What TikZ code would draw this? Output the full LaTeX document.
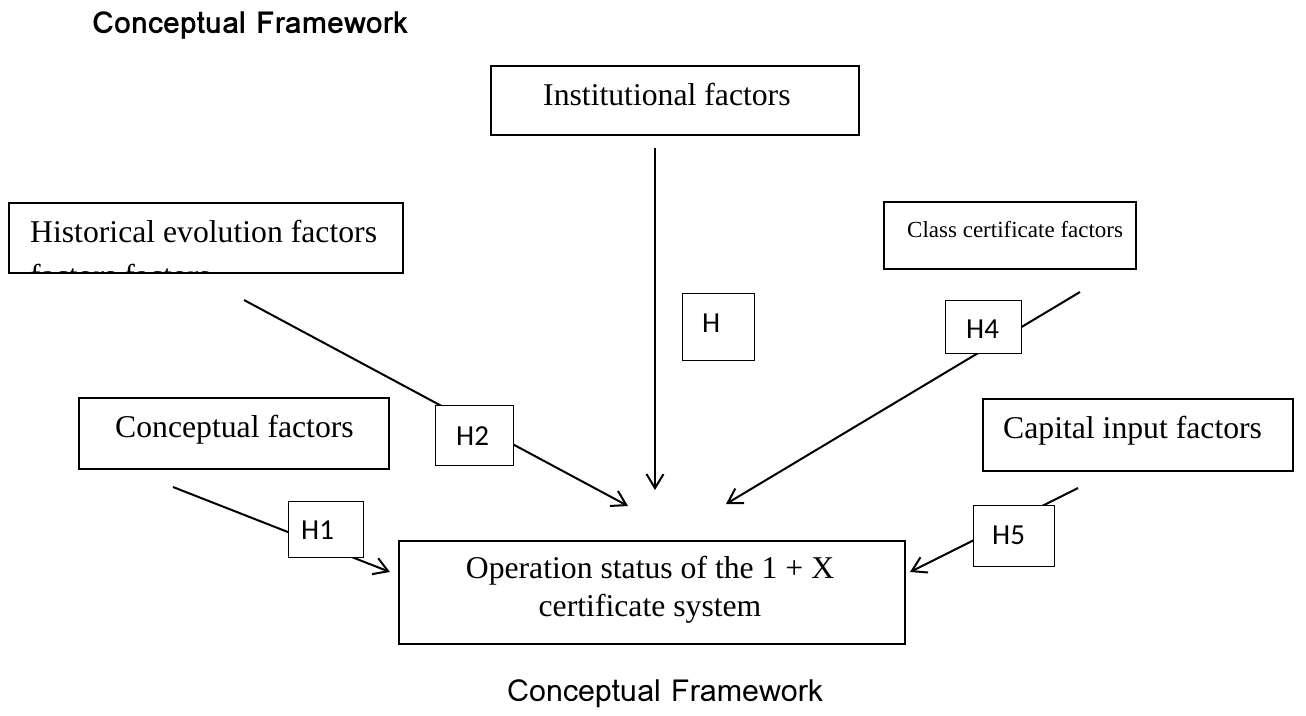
\documentclass[tikz,border=0pt]{standalone}
\usepackage{fontspec}
\setmainfont{Liberation Serif}
\newfontfamily\hfont{Carlito}
\newfontfamily\lomafont{Loma}
\usetikzlibrary{arrows.meta}
\begin{document}
\begin{tikzpicture}[x=1pt,y=-1pt,
  factorbox/.style={draw, line width=1.8pt, inner sep=0pt, anchor=north west},
  factortext/.style={inner sep=0pt, anchor=base west, font=\fontsize{31.7}{38}\selectfont},
  hbox/.style={draw, line width=1pt, fill=white, inner sep=0pt, anchor=north west},
  htext/.style={inner sep=0pt, anchor=base west, font=\hfont\fontsize{29}{32}\selectfont},
  link/.style={line width=2pt, -{Straight Barb[length=14pt,width=17pt,line width=2pt]}},
  titletext/.style={inner sep=0pt, anchor=base west, font=\lomafont\fontsize{30.4}{34}\selectfont}
]
\useasboundingbox (0,0) rectangle (1306,715);

% titles
\node[titletext, font=\lomafont\bfseries\fontsize{30.4}{34}\selectfont] (title) at (92,33) {Conceptual Framework};
\node[titletext] (caption) at (507,701) {Conceptual Framework};

% factor boxes
\node[factorbox, minimum width=368, minimum height=69] (inst) at (490,65) {};
\node[factortext] (instT) at (543,105) {Institutional factors};

\node[factorbox, minimum width=394, minimum height=70] (hist) at (8,202) {};
\node[factortext] (histT) at (30,242) {Historical evolution factors};
\begin{scope}
  \clip (8,203) rectangle (402,271);
  \node[factortext] (histT2) at (30,286) {factors factors};
\end{scope}

\node[factorbox, minimum width=252, minimum height=67] (class) at (883,201) {};
\node[factortext, font=\fontsize{23}{27}\selectfont] (classT) at (907,237) {Class certificate factors};

\node[factorbox, minimum width=310, minimum height=71] (conc) at (78,397) {};
\node[factortext] (concT) at (115,437) {Conceptual factors};

\node[factorbox, minimum width=310, minimum height=72] (cap) at (982,398) {};
\node[factortext] (capT) at (1003,438) {Capital input factors};

\node[factorbox, minimum width=506, minimum height=103] (opr) at (398,540) {};
\node[factortext, anchor=base] (oprT1) at (650,578) {Operation status of the 1 + X};
\node[factortext, anchor=base] (oprT2) at (650,616) {certificate system};

% connectors
\coordinate (s1) at (173,487);  \coordinate (e1) at (390,572);
\coordinate (s2) at (244,300);  \coordinate (e2) at (628,506);
\coordinate (s3) at (655,148);  \coordinate (e3) at (655,490);
\coordinate (s4) at (1080,292); \coordinate (e4) at (726,504);
\coordinate (s5) at (1078,488); \coordinate (e5) at (910,572);
\draw[link] (s1) -- (e1);
\draw[link] (s2) -- (e2);
\draw[link] (s3) -- (e3);
\draw[link] (s4) -- (e4);
\draw[link] (s5) -- (e5);

% hypothesis boxes
\node[hbox, minimum width=75, minimum height=56] (h1) at (288,501) {};
\node[htext] (h1T) at (301,539) {H1};
\node[hbox, minimum width=78, minimum height=60] (h2) at (435,405) {};
\node[htext] (h2T) at (456,445) {H2};
\node[hbox, minimum width=72, minimum height=67] (h3) at (682,293) {};
\node[htext] (h3T) at (702,332) {H};
\node[hbox, minimum width=76, minimum height=53] (h4) at (945,300) {};
\node[htext] (h4T) at (966,338) {H4};
\node[hbox, minimum width=81, minimum height=61] (h5) at (973,505) {};
\node[htext] (h5T) at (992,544) {H5};
\end{tikzpicture}
\end{document}
